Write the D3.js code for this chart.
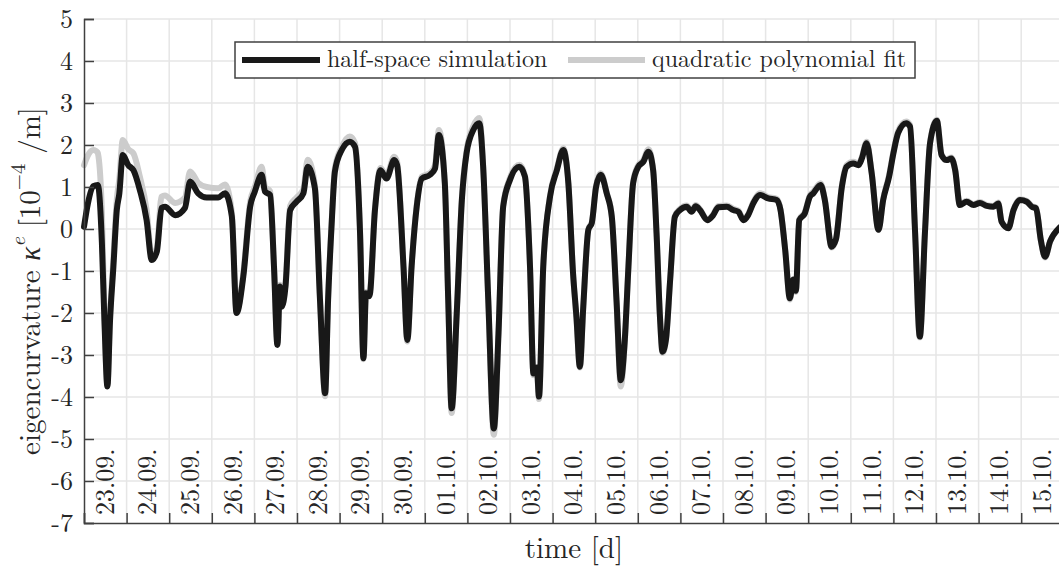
<!DOCTYPE html>
<html>
<head>
<meta charset="utf-8">
<script src="https://cdn.jsdelivr.net/npm/d3@7"></script>
<style>
  html, body { margin: 0; padding: 0; background: #fff; overflow: hidden; }
  svg { display: block; }
</style>
</head>
<body>
<svg id="chart" width="1059" height="570"></svg>
<script>
// time in days since 23.09. 00:00
const timeDays = [
  0.00, 0.09, 0.22, 0.32, 0.34, 0.42, 0.48, 0.55, 0.61, 0.69, 0.77, 0.83, 0.91, 1.04, 1.16, 1.31,
  1.47, 1.59, 1.71, 1.82, 1.90, 2.14, 2.37, 2.49, 2.68, 2.88, 3.15, 3.31, 3.47, 3.58, 3.74, 3.90,
  4.01, 4.17, 4.25, 4.37, 4.46, 4.54, 4.60, 4.64, 4.73, 4.84, 4.99, 5.15, 5.25, 5.42, 5.54, 5.66,
  5.73, 5.81, 5.89, 6.05, 6.24, 6.36, 6.48, 6.56, 6.62, 6.70, 6.83, 6.96, 7.10, 7.28, 7.35, 7.50,
  7.59, 7.69, 7.81, 7.93, 8.12, 8.24, 8.33, 8.47, 8.55, 8.63, 8.75, 8.87, 8.98, 9.14, 9.28, 9.37,
  9.49, 9.62, 9.73, 9.84, 10.00, 10.22, 10.35, 10.47, 10.55, 10.63, 10.68, 10.78, 10.94, 11.10, 11.25, 11.37,
  11.48, 11.56, 11.64, 11.72, 11.84, 11.92, 12.02, 12.13, 12.27, 12.39, 12.50, 12.60, 12.69, 12.78, 12.89, 13.01,
  13.13, 13.25, 13.36, 13.44, 13.52, 13.58, 13.66, 13.76, 13.87, 13.99, 14.15, 14.26, 14.36, 14.46, 14.63, 14.77,
  14.89, 15.09, 15.24, 15.36, 15.48, 15.59, 15.71, 15.87, 16.06, 16.26, 16.35, 16.46, 16.57, 16.65, 16.71, 16.79,
  16.92, 17.04, 17.12, 17.29, 17.39, 17.55, 17.65, 17.79, 17.90, 18.06, 18.18, 18.26, 18.37, 18.49, 18.65, 18.76,
  18.90, 19.00, 19.11, 19.30, 19.39, 19.51, 19.62, 19.74, 19.86, 20.02, 20.13, 20.25, 20.36, 20.45, 20.56, 20.72,
  20.88, 21.03, 21.19, 21.35, 21.46, 21.54, 21.70, 21.82, 21.97, 22.13, 22.25, 22.35, 22.46, 22.56, 22.68, 22.89,
  23.00
];

// half-space simulation, eigencurvature in 1e-4 / m
const simulation = [
  0.05, 0.60, 1.02, 1.05, 1.00, -0.33, -2.20, -3.75, -2.20, -0.90, 0.45, 0.85, 1.76, 1.52, 1.40, 0.93,
  0.21, -0.74, -0.54, 0.50, 0.53, 0.33, 0.50, 1.13, 0.85, 0.75, 0.75, 0.85, 0.30, -2.00, -1.13, 0.53,
  0.89, 1.29, 0.89, 0.81, -0.90, -2.76, -1.37, -1.85, -1.37, 0.45, 0.65, 0.85, 1.48, 0.97, -1.69, -3.91,
  -1.69, 0.05, 1.37, 1.88, 2.08, 1.96, -0.10, -3.08, -1.53, -1.60, 0.45, 1.40, 1.20, 1.64, 1.52, -0.90,
  -2.64, -0.90, 0.53, 1.20, 1.29, 1.44, 2.24, 1.09, -1.69, -4.27, -2.00, 0.69, 1.80, 2.36, 2.52, 1.48,
  -1.69, -4.75, -2.48, 0.53, 1.17, 1.48, 1.25, -0.90, -3.44, -3.30, -3.99, -0.90, 0.77, 1.40, 1.88, 1.09,
  -1.05, -2.10, -3.28, -1.85, -0.02, 0.14, 1.00, 1.29, 0.85, 0.29, -1.69, -3.60, -2.72, -0.90, 1.09, 1.48,
  1.60, 1.84, 1.40, -0.10, -2.09, -2.92, -2.64, -1.20, 0.29, 0.45, 0.53, 0.41, 0.54, 0.45, 0.21, 0.33,
  0.52, 0.53, 0.45, 0.41, 0.21, 0.33, 0.61, 0.81, 0.73, 0.69, 0.45, -0.50, -1.65, -1.20, -1.47, 0.21,
  0.37, 0.77, 0.85, 1.05, 0.69, -0.42, -0.25, 1.00, 1.48, 1.56, 1.52, 1.68, 2.04, 1.33, -0.02, 0.69,
  1.25, 1.80, 2.28, 2.52, 2.44, -0.10, -2.56, -0.10, 2.04, 2.58, 1.76, 1.64, 1.68, 1.40, 0.57, 0.65,
  0.57, 0.62, 0.55, 0.53, 0.61, 0.17, 0.02, 0.45, 0.69, 0.65, 0.53, 0.49, -0.26, -0.66, -0.29, 0.02,
  0.10
];

// quadratic polynomial fit, same time base
const polyFit = [
  1.52, 1.75, 1.88, 1.82, 1.73, 0.40, -2.00, -3.70, -2.10, -0.70, 0.70, 1.20, 2.12, 1.90, 1.80, 1.25,
  0.45, -0.65, -0.45, 0.77, 0.80, 0.62, 0.75, 1.37, 1.10, 1.00, 0.97, 1.06, 0.40, -1.95, -1.05, 0.65,
  1.00, 1.48, 1.00, 0.90, -0.85, -2.72, -1.33, -1.80, -1.30, 0.55, 0.75, 0.95, 1.65, 1.05, -1.65, -3.98,
  -1.65, 0.10, 1.45, 1.95, 2.20, 2.05, -0.05, -3.10, -1.50, -1.55, 0.50, 1.45, 1.27, 1.72, 1.60, -0.88,
  -2.68, -0.88, 0.57, 1.25, 1.33, 1.52, 2.36, 1.12, -1.70, -4.38, -2.00, 0.72, 1.87, 2.45, 2.64, 1.52,
  -1.72, -4.90, -2.50, 0.57, 1.22, 1.53, 1.28, -0.92, -3.48, -3.34, -4.05, -0.92, 0.80, 1.44, 1.92, 1.10,
  -1.07, -2.13, -3.30, -1.87, 0.00, 0.16, 1.03, 1.33, 0.87, 0.30, -1.72, -3.75, -2.78, -0.92, 1.12, 1.52,
  1.64, 1.90, 1.42, -0.10, -2.10, -2.95, -2.66, -1.20, 0.31, 0.48, 0.56, 0.44, 0.57, 0.47, 0.23, 0.35,
  0.55, 0.56, 0.48, 0.44, 0.23, 0.35, 0.64, 0.85, 0.76, 0.72, 0.47, -0.50, -1.68, -1.22, -1.50, 0.23,
  0.40, 0.80, 0.89, 1.09, 0.71, -0.44, -0.26, 1.03, 1.52, 1.60, 1.56, 1.71, 2.08, 1.35, -0.02, 0.71,
  1.29, 1.84, 2.33, 2.56, 2.48, -0.10, -2.58, -0.10, 2.06, 2.60, 1.78, 1.66, 1.70, 1.42, 0.59, 0.67,
  0.59, 0.64, 0.57, 0.55, 0.63, 0.18, 0.03, 0.47, 0.71, 0.67, 0.55, 0.51, -0.27, -0.68, -0.30, 0.02,
  0.10
];

// one label per day, centred in its day
const dayLabels = [
  "23.09.", "24.09.", "25.09.", "26.09.", "27.09.", "28.09.", "29.09.", "30.09.",
  "01.10.", "02.10.", "03.10.", "04.10.", "05.10.", "06.10.", "07.10.", "08.10.",
  "09.10.", "10.10.", "11.10.", "12.10.", "13.10.", "14.10.", "15.10."
];
const yTicks = [5, 4, 3, 2, 1, 0, -1, -2, -3, -4, -5, -6, -7];

const FONT = '"Latin Modern Roman", "Liberation Serif", serif';
const TEXT = "#262626";

const svg = d3.select("#chart");
const plotL = 84, plotT = 19, plotB = 523, plotR = 84 + 42.6 * dayLabels.length;

const x = d3.scaleLinear().domain([0, dayLabels.length]).range([plotL, plotR]);
const y = d3.scaleLinear().domain([-7, 5]).range([plotB, plotT]);

const gridColor = "#e6e6e6";
const axisColor = "#404040";

// grid
const grid = svg.append("g");
grid.selectAll("line.v").data(d3.range(1, dayLabels.length + 1)).join("line")
  .attr("class", "v")
  .attr("x1", d => x(d)).attr("x2", d => x(d))
  .attr("y1", plotT).attr("y2", plotB)
  .attr("stroke", gridColor).attr("stroke-width", 1.5);
grid.selectAll("line.h").data(yTicks.filter(v => v !== -7)).join("line")
  .attr("class", "h")
  .attr("x1", plotL).attr("x2", plotR)
  .attr("y1", d => y(d)).attr("y2", d => y(d))
  .attr("stroke", gridColor).attr("stroke-width", 1.5);

// series
const line = d3.line().x((d, i) => x(timeDays[i])).y(d => y(d)).curve(d3.curveMonotoneX);
svg.append("path").datum(polyFit).attr("d", line)
  .attr("fill", "none").attr("stroke", "#cccccc").attr("stroke-width", 6)
  .attr("stroke-linejoin", "round").attr("stroke-linecap", "round");
svg.append("path").datum(simulation).attr("d", line)
  .attr("fill", "none").attr("stroke", "#181818").attr("stroke-width", 6)
  .attr("stroke-linejoin", "round").attr("stroke-linecap", "round");

// y axis
const yAxis = d3.axisLeft(y).tickValues(yTicks).tickSize(-10).tickPadding(11)
  .tickFormat(d => d < 0 ? "-" + Math.abs(d) : String(d));
const gy = svg.append("g").attr("transform", `translate(${plotL},0)`).call(yAxis);
gy.select(".domain").attr("stroke", axisColor).attr("stroke-width", 1.5);
gy.selectAll(".tick line").attr("stroke", axisColor).attr("stroke-width", 1.5);
gy.selectAll(".tick text")
  .style("font-family", FONT).style("font-size", "26px").style("fill", TEXT);

// x axis: ticks at day boundaries, labels in between
const xAxis = d3.axisBottom(x).tickValues(d3.range(0, dayLabels.length + 1)).tickSize(-10).tickFormat("");
const gx = svg.append("g").attr("transform", `translate(0,${plotB})`).call(xAxis);
gx.select(".domain").attr("stroke", axisColor).attr("stroke-width", 1.5);
gx.selectAll(".tick line").attr("stroke", axisColor).attr("stroke-width", 1.5);

svg.append("g").selectAll("text").data(dayLabels).join("text")
  .attr("transform", (d, i) => `translate(${x(i + 0.5)},${plotB - 8}) rotate(-90)`)
  .attr("dy", "0.33em")
  .style("font-family", FONT).style("font-size", "26px").style("fill", TEXT)
  .text(d => d);

// axis titles
svg.append("text")
  .attr("x", (plotL + plotR) / 2).attr("y", 558)
  .attr("text-anchor", "middle")
  .style("font-family", FONT).style("font-size", "29px").style("fill", TEXT)
  .text("time [d]");

const yt = svg.append("text")
  .attr("transform", `translate(40,281) rotate(-90)`)
  .attr("text-anchor", "middle")
  .style("font-family", FONT).style("font-size", "29px").style("fill", TEXT);
yt.append("tspan").text("eigencurvature ");
yt.append("tspan").style("font-style", "italic").text("κ");
yt.append("tspan").attr("baseline-shift", "super").style("font-size", "21px").style("font-style", "italic").text("e");
yt.append("tspan").text("  [10");
yt.append("tspan").attr("baseline-shift", "super").style("font-size", "21px").text("−4");
yt.append("tspan").text(" /m]");

// legend
const lg = svg.append("g");
lg.append("rect").attr("x", 235).attr("y", 42).attr("width", 680).attr("height", 36)
  .attr("fill", "#fff").attr("stroke", axisColor).attr("stroke-width", 1.5);
lg.append("line").attr("x1", 242).attr("x2", 320).attr("y1", 60).attr("y2", 60)
  .attr("stroke", "#181818").attr("stroke-width", 6);
lg.append("text").attr("x", 327).attr("y", 67)
  .style("font-family", FONT).style("font-size", "24px").style("fill", TEXT)
  .text("half-space simulation");
lg.append("line").attr("x1", 568).attr("x2", 645).attr("y1", 60).attr("y2", 60)
  .attr("stroke", "#cccccc").attr("stroke-width", 6);
lg.append("text").attr("x", 652).attr("y", 67)
  .style("font-family", FONT).style("font-size", "24px").style("fill", TEXT)
  .text("quadratic polynomial fit");
</script>
</body>
</html>
